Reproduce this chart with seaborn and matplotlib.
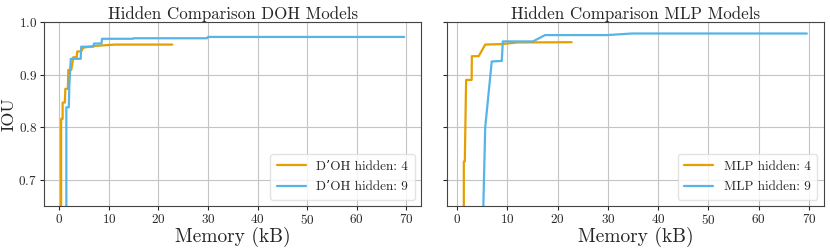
import numpy as np
import pandas as pd
import matplotlib
matplotlib.use("Agg")
import matplotlib.pyplot as plt
import seaborn as sns

# D'OH models: memory (kB) vs IOU
doh4_kb = [0.35, 0.35, 0.65, 0.65, 1.1, 1.2, 1.7, 1.8, 2.4, 2.8, 3.5, 3.6, 4.4, 4.8, 6.0, 8.0, 11.2, 22.8]
doh4_iou = [0.55, 0.816, 0.816, 0.847, 0.847, 0.873, 0.873, 0.909, 0.909, 0.933, 0.933, 0.944, 0.944, 0.951, 0.953, 0.955, 0.957, 0.957]
doh9_kb = [1.4, 1.4, 1.9, 2.0, 2.3, 4.3, 4.4, 6.8, 7.0, 8.5, 8.6, 14.8, 15.0, 29.8, 30.0, 69.6]
doh9_iou = [0.55, 0.838, 0.838, 0.88, 0.93, 0.93, 0.953, 0.953, 0.959, 0.959, 0.968, 0.968, 0.969, 0.969, 0.9715, 0.9715]

# MLP models
mlp4_kb = [1.34, 1.34, 1.54, 1.8, 2.9, 2.94, 4.3, 5.6, 9.0, 12.0, 22.8]
mlp4_iou = [0.55, 0.735, 0.735, 0.890, 0.890, 0.935, 0.935, 0.957, 0.958, 0.961, 0.9615]
mlp9_kb = [5.1, 5.6, 6.9, 8.9, 9.1, 15.1, 17.5, 29.8, 34.8, 69.6]
mlp9_iou = [0.60, 0.80, 0.925, 0.926, 0.963, 0.963, 0.975, 0.975, 0.978, 0.978]

colors = ["#E69F00", "#56B4E9"]

sns.set_style("ticks", {"axes.grid": True})
plt.rcParams["font.family"] = ["cmr10", "DejaVu Serif"]
plt.rcParams["mathtext.fontset"] = "cm"
plt.rcParams["axes.formatter.use_mathtext"] = True


def make_df(kb, iou, label):
    return pd.DataFrame({"Memory": kb, "IOU": iou, "Model": label})


panels = [
    ("Hidden Comparison DOH Models",
     [make_df(doh4_kb, doh4_iou, "D’OH hidden: 4"), make_df(doh9_kb, doh9_iou, "D’OH hidden: 9")]),
    ("Hidden Comparison MLP Models",
     [make_df(mlp4_kb, mlp4_iou, "MLP hidden: 4"), make_df(mlp9_kb, mlp9_iou, "MLP hidden: 9")]),
]

fig, axes = plt.subplots(1, 2, figsize=(8.3, 2.49), dpi=100, sharey=True)
fig.subplots_adjust(left=0.053, right=0.9928, bottom=0.171, top=0.912, wspace=0.067)

for ax, (title, dfs) in zip(axes, panels):
    df = pd.concat(dfs, ignore_index=True)
    sns.lineplot(
        data=df, x="Memory", y="IOU", hue="Model",
        palette=colors, estimator=None, sort=False,
        linewidth=1.6, ax=ax
    )
    ax.set_ylim(0.65, 1.0)
    ax.set_yticks([0.7, 0.8, 0.9, 1.0])
    ax.set_xticks(np.arange(0, 80, 10))
    ax.set_title(title, fontsize=12.2, pad=2)
    ax.set_xlabel("Memory (kB)", fontsize=14, labelpad=0)
    ax.set_ylabel("IOU", fontsize=13, labelpad=1)
    ax.tick_params(labelsize=9.5, length=3, pad=2)
    ax.grid(True, color="#c4c4c4", linewidth=0.8)
    for s in ax.spines.values():
        s.set_color("#444444")
    leg = ax.legend(loc="lower right", fontsize=9.5, title=None,
                    handlelength=2.2, labelspacing=0.6, borderpad=0.5)
    leg.get_frame().set_edgecolor("#dddddd")

fig.savefig("out.png", dpi=100)
